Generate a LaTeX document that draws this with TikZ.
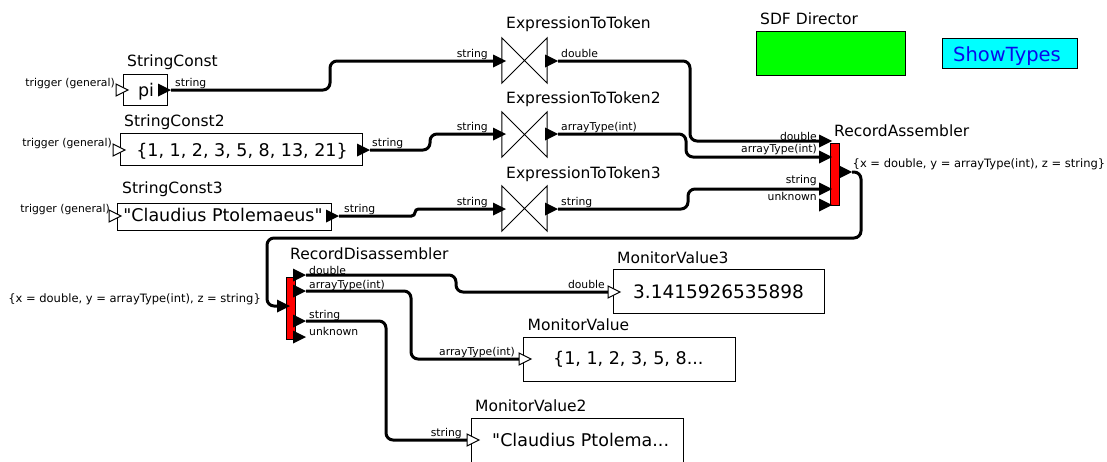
\documentclass[tikz,border=0pt]{standalone}
\usepackage{fontspec}
\setmainfont{DejaVu Sans}[Ligatures=TeXOff]
\definecolor{sdfgreen}{RGB}{0,255,0}
\definecolor{attrcyan}{RGB}{0,255,255}
\definecolor{attrblue}{RGB}{10,10,235}
\definecolor{recordred}{RGB}{255,0,0}
\tikzset{
  wire/.style={line width=3pt, rounded corners=7pt},
  actorbox/.style={draw, line width=1pt, fill=white, inner sep=0pt},
  redbar/.style={draw, line width=1pt, fill=recordred, inner sep=0pt, minimum width=9, minimum height=62},
  tiebox/.style={inner sep=0pt, minimum width=45, minimum height=45},
  title/.style={anchor=base west, inner sep=0pt, font=\fontsize{15.5}{16}\selectfont},
  portlabel/.style={inner sep=0pt, font=\fontsize{10.8}{11}\selectfont},
  recordlabel/.style={inner sep=0pt, font=\fontsize{11.5}{12}\selectfont},
  lblL/.style={portlabel, anchor=base east},
  lblR/.style={portlabel, anchor=base west},
  valuetext/.style={inner sep=0pt, font=\fontsize{17.5}{18}\selectfont},
  solidport/.pic={\fill (-13,-6.5) -- (0,0) -- (-13,6.5) -- cycle;},
  hollowport/.pic={\filldraw[fill=white, line width=1pt, line join=miter] (-12,-6) -- (0,0) -- (-12,6) -- cycle;},
}
\begin{document}
\begin{tikzpicture}[x=1pt,y=-1pt]
\useasboundingbox (0,0) rectangle (1107,461);
\fill[white] (0,0) rectangle (1107,461);

% ---------- director and type display attribute ----------
\node[draw, line width=1pt, fill=sdfgreen, inner sep=0pt, minimum width=149, minimum height=44] (sdf) at (830.5,53) {};
\node[title] (sdftitle) at (760,24.3) {SDF Director};
\node[draw, line width=1pt, fill=attrcyan, inner sep=0pt, minimum width=135, minimum height=30] (showtypes) at (1009.5,53) {};
\node[inner sep=0pt, anchor=base, text=attrblue, font=\fontsize{19.5}{20}\selectfont] (showtypeslabel) at (1007,61) {ShowTypes};

% ---------- string constants ----------
\node[actorbox, minimum width=44, minimum height=31] (sc1) at (145,89.5) {};
\node[actorbox, minimum width=242, minimum height=32] (sc2) at (241,149) {};
\node[actorbox, minimum width=214, minimum height=27] (sc3) at (224,217) {};
\node[title] (sc1title) at (127,66.5) {StringConst};
\node[title] (sc2title) at (124,126) {StringConst2};
\node[title] (sc3title) at (122,193) {StringConst3};
\node[valuetext, anchor=base] (sc1val) at (146,96) {pi};
\node[valuetext, anchor=base] (sc2val) at (242,156) {\{1, 1, 2, 3, 5, 8, 13, 21\}};
\node[valuetext, anchor=base] (sc3val) at (223,221.5) {"Claudius Ptolemaeus"};

% ---------- expression converters ----------
\node[tiebox] (e1) at (524.5,60.5) {};
\node[tiebox] (e2) at (524.5,134.5) {};
\node[tiebox] (e3) at (524.5,208.5) {};
\foreach \n in {e1,e2,e3}
  \draw[line width=1pt, line join=miter] (\n.north west) -- (\n.south east) -- (\n.north east) -- (\n.south west) -- cycle;
\node[title] (e1title) at (506,28) {ExpressionToToken};
\node[title] (e2title) at (506,103) {ExpressionToToken2};
\node[title] (e3title) at (506,178) {ExpressionToToken3};

% ---------- record actors ----------
\node[redbar] (asm) at (834.5,174) {};
\node[title] (asmtitle) at (834,136.5) {RecordAssembler};
\node[redbar] (dis) at (290.5,308) {};
\node[title] (distitle) at (290,259) {RecordDisassembler};

% ---------- monitors ----------
\node[actorbox, minimum width=211, minimum height=44] (mv3) at (718.5,291) {};
\node[actorbox, minimum width=212, minimum height=44] (mv) at (629,359) {};
\node[actorbox, minimum width=212, minimum height=52] (mv2) at (577,444) {};
\node[title] (mv3title) at (617,263) {MonitorValue3};
\node[title] (mvtitle) at (527.5,330.5) {MonitorValue};
\node[title] (mv2title) at (475,411.5) {MonitorValue2};
\node[valuetext, anchor=base west, font=\fontsize{18.5}{19}\selectfont] (mv3val) at (633,298.3) {3.1415926535898};
\node[valuetext, anchor=base west] (mvval) at (553,364.3) {\{1, 1, 2, 3, 5, 8...};
\node[valuetext, anchor=base west] (mv2val) at (492,446.7) {"Claudius Ptolema...};

% ---------- port positions ----------
\coordinate (sc1trig) at (128,90);   \coordinate (sc1out) at (171,90);
\coordinate (sc2trig) at (125,150);  \coordinate (sc2out) at (370,150);
\coordinate (sc3trig) at (121,216);  \coordinate (sc3out) at (339,216);
\coordinate (e1in) at (506,61);  \coordinate (e1out) at (558,61);
\coordinate (e2in) at (506,134); \coordinate (e2out) at (558,134);
\coordinate (e3in) at (506,209); \coordinate (e3out) at (558,209);
\coordinate (asmx) at (832,141); \coordinate (asmy) at (832,157);
\coordinate (asmz) at (832,189); \coordinate (asmu) at (832,205);
\coordinate (asmout) at (852,172);
\coordinate (disin) at (290,306);
\coordinate (disx) at (306,275); \coordinate (disy) at (306,291);
\coordinate (disz) at (306,321); \coordinate (disu) at (306,337);
\coordinate (mv3in) at (620,292);
\coordinate (mvin) at (531,359);
\coordinate (mv2in) at (479,440);

% ---------- connections ----------
\draw[wire] (sc1out) -- (330,90) -- (330,61) -- ([xshift=-12pt]e1in);
\draw[wire] (sc2out) -- (430,150) -- (430,134) -- ([xshift=-12pt]e2in);
\draw[wire, rounded corners=3.5pt] (sc3out) -- (415,216) -- (415,209) -- ([xshift=-12pt]e3in);
\draw[wire] (e1out) -- (690,61) -- (690,141) -- ([xshift=-12pt]asmx);
\draw[wire] (e2out) -- (686,134) -- (686,157) -- ([xshift=-12pt]asmy);
\draw[wire] (e3out) -- (688,209) -- (688,189) -- ([xshift=-12pt]asmz);
\draw[wire] (asmout) -- (861,172) -- (861,238) -- (267,238) -- (267,306) -- ([xshift=-12pt]disin);
\draw[wire] (disx) -- (456,275) -- (456,292) -- ([xshift=-12pt]mv3in);
\draw[wire] (disy) -- (411,291) -- (411,359) -- ([xshift=-12pt]mvin);
\draw[wire] (disz) -- (386,321) -- (386,440) -- ([xshift=-12pt]mv2in);

% ---------- ports ----------
\foreach \p in {sc1trig,sc2trig,sc3trig,mv3in,mvin,mv2in}
  \pic at (\p) {hollowport};
\foreach \p in {sc1out,sc2out,sc3out,e1in,e1out,e2in,e2out,e3in,e3out,asmx,asmy,asmz,asmu,asmout,disin,disx,disy,disz,disu}
  \pic at (\p) {solidport};

% ---------- port type labels ----------
\node[lblL] (sc1tl) at (115,86.5) {trigger (general)};
\node[lblL] (sc2tl) at (112,146.5) {trigger (general)};
\node[lblL] (sc3tl) at (110,212) {trigger (general)};
\node[lblR] (sc1ol) at (175,86.5) {string};
\node[lblR] (sc2ol) at (372,146.5) {string};
\node[lblR] (sc3ol) at (344,212) {string};
\node[lblL] (e1il) at (488,57) {string};
\node[lblL] (e2il) at (488,130) {string};
\node[lblL] (e3il) at (488,205) {string};
\node[lblR] (e1ol) at (561,57) {double};
\node[lblR] (e2ol) at (561,130) {arrayType(int)};
\node[lblR] (e3ol) at (561,205) {string};
\node[lblL] (asmxl) at (817,140) {double};
\node[lblL] (asmyl) at (817,152.5) {arrayType(int)};
\node[lblL] (asmzl) at (817,183.5) {string};
\node[lblL] (asmul) at (817,200) {unknown};
\node[recordlabel, anchor=base west] (asmol) at (852.5,167) {\{x = double, y = arrayType(int), z = string\}};
\node[recordlabel, anchor=base east] (disil) at (261,302) {\{x = double, y = arrayType(int), z = string\}};
\node[lblR] (disxl) at (309,274) {double};
\node[lblR] (disyl) at (309,288) {arrayType(int)};
\node[lblR] (diszl) at (309,318) {string};
\node[lblR] (disul) at (309,335) {unknown};
\node[lblL] (mv3il) at (605,288.5) {double};
\node[lblL] (mvil) at (515,355.5) {arrayType(int)};
\node[lblL] (mv2il) at (462,436.5) {string};
\end{tikzpicture}
\end{document}
